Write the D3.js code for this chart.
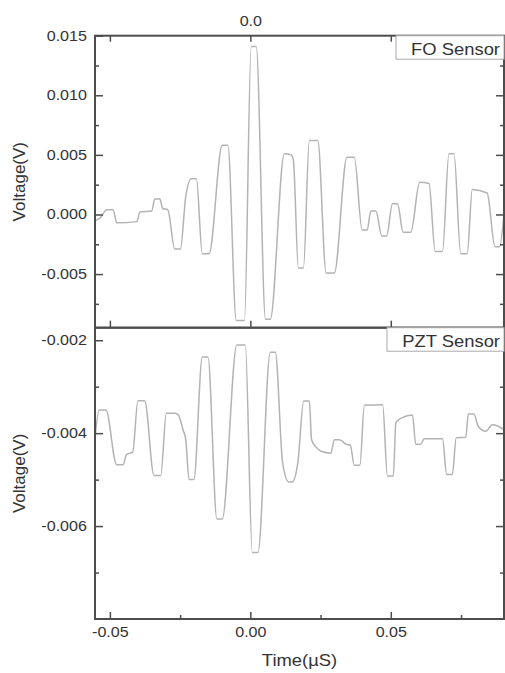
<!DOCTYPE html>
<html>
<head>
<meta charset="utf-8">
<script src="https://cdn.jsdelivr.net/npm/d3@7"></script>
<style>
  html, body { margin: 0; padding: 0; background: #fff; }
  svg { display: block; }
  text { font-family: "Liberation Sans", Arial, sans-serif; fill: #333; }
</style>
</head>
<body>
<svg id="chart"></svg>
<script>
// time axis (µS) and voltages
const foTime = [-0.0553, -0.0535, -0.0511, -0.0489, -0.0475, -0.0404, -0.0393, -0.0351, -0.0340, -0.0322,
  -0.0312, -0.0294, -0.0269, -0.0249, -0.0230, -0.0210, -0.0192, -0.0171, -0.0147, -0.0100,
  -0.0080, -0.0050, -0.0021, 0.0003, 0.0021, 0.0054, 0.0071, 0.0121, 0.0145, 0.0153,
  0.0171, 0.0189, 0.0210, 0.0240, 0.0270, 0.0299, 0.0344, 0.0370, 0.0398, 0.0416,
  0.0429, 0.0447, 0.0468, 0.0485, 0.0506, 0.0524, 0.0544, 0.0571, 0.0603, 0.0636,
  0.0658, 0.0684, 0.0707, 0.0725, 0.0749, 0.0772, 0.0790, 0.0843, 0.0871, 0.0887, 0.0903];
const foVolt = [-0.0005, -0.0003, 0.0004, 0.0004, -0.0007, -0.0006, 0.0002, 0.0003, 0.0013, 0.0013,
  0.0005, 0.0004, -0.0029, -0.0029, 0.0015, 0.0030, 0.0030, -0.0033, -0.0033, 0.0058,
  0.0058, -0.0089, -0.0089, 0.0141, 0.0141, -0.0088, -0.0088, 0.0051, 0.0050, 0.0046,
  -0.0045, -0.0045, 0.0062, 0.0062, -0.0049, -0.0049, 0.0048, 0.0048, -0.0013, -0.0013,
  0.0003, 0.0003, -0.0018, -0.0018, 0.0009, 0.0009, -0.0015, -0.0015, 0.0027, 0.0026,
  -0.0031, -0.0031, 0.0051, 0.0051, -0.0033, -0.0033, 0.0021, 0.0018, -0.0027, -0.0027, 0.0000];

const pztTime = [-0.0553, -0.0538, -0.0514, -0.0476, -0.0453, -0.0441, -0.0419, -0.0400, -0.0376, -0.0343,
  -0.0319, -0.0299, -0.0269, -0.0257, -0.0240, -0.0230, -0.0218, -0.0201, -0.0171, -0.0151,
  -0.0119, -0.0100, -0.0048, -0.0018, 0.0007, 0.0027, 0.0071, 0.0089, 0.0115, 0.0137,
  0.0149, 0.0169, 0.0190, 0.0210, 0.0218, 0.0234, 0.0252, 0.0287, 0.0299, 0.0317,
  0.0341, 0.0356, 0.0370, 0.0390, 0.0406, 0.0471, 0.0488, 0.0509, 0.0518, 0.0539,
  0.0577, 0.0589, 0.0607, 0.0619, 0.0684, 0.0699, 0.0719, 0.0733, 0.0767, 0.0776,
  0.0796, 0.0811, 0.0838, 0.0861, 0.0879, 0.0903];
const pztVolt = [-0.00410, -0.00350, -0.00350, -0.00468, -0.00468, -0.00446, -0.00441, -0.00330, -0.00330, -0.00491,
  -0.00491, -0.00357, -0.00357, -0.00360, -0.00392, -0.00414, -0.00500, -0.00500, -0.00236, -0.00236,
  -0.00585, -0.00585, -0.00210, -0.00210, -0.00657, -0.00657, -0.00226, -0.00226, -0.00464, -0.00505,
  -0.00505, -0.00464, -0.00331, -0.00331, -0.00414, -0.00430, -0.00439, -0.00443, -0.00414, -0.00414,
  -0.00424, -0.00426, -0.00469, -0.00469, -0.00340, -0.00339, -0.00492, -0.00492, -0.00378, -0.00367,
  -0.00361, -0.00424, -0.00424, -0.00412, -0.00412, -0.00489, -0.00489, -0.00410, -0.00409, -0.00359,
  -0.00359, -0.00385, -0.00396, -0.00382, -0.00384, -0.00393];

const xMajor = [-0.05, 0, 0.05];
const xMinor = [-0.025, 0.025, 0.075];
const foMajor = [0.015, 0.010, 0.005, 0.000, -0.005];
const foMinor = [0.0125, 0.0075, 0.0025, -0.0025, -0.0075];
const pztMajor = [-0.002, -0.004, -0.006];
const pztMinor = [-0.003, -0.005, -0.007];

const width = 505, height = 673;
const left = 95, right = 504;
const topY = 35.7, midY = 327.7, botY = 619;
const axisColor = '#4d4d4d';
const lineColor = '#b3b3b3';
const stretch = 'scale(1.15,1)';

// plain hyphen for negatives, like the original
const fmt = n => d => d.toFixed(n);

const svg = d3.select('#chart').attr('width', width).attr('height', height);

const x = d3.scaleLinear().domain([-0.0553, 0.0903]).range([left, right]);
const yTop = d3.scaleLinear().domain([-0.0095, 0.015]).range([midY, topY]);
const yBot = d3.scaleLinear().domain([-0.008, -0.00173]).range([botY, midY]);

function styleAxis(g) {
  g.select('.domain').remove();
  g.selectAll('line').attr('stroke', axisColor).attr('stroke-width', 1.5);
  g.selectAll('text').attr('fill', '#333').style('font-size', '14px')
    .attr('transform', stretch);
}

function panel(y, times, volts, major, minor, label, box, xTicksBottom) {
  const g = svg.append('g');

  // trace
  const line = d3.line()
    .x((d, i) => x(times[i]))
    .y(d => y(d))
    .curve(d3.curveMonotoneX);
  g.append('path')
    .datum(volts)
    .attr('d', line)
    .attr('fill', 'none')
    .attr('stroke', lineColor)
    .attr('stroke-width', 1.5);

  const [y0, y1] = y.range();

  // left axis
  g.append('g').attr('transform', `translate(${left},0)`)
    .call(d3.axisLeft(y).tickValues(major).tickFormat(fmt(3)).tickSize(-8).tickSizeOuter(0).tickPadding(7))
    .call(styleAxis);
  g.append('g').attr('transform', `translate(${left},0)`)
    .call(d3.axisLeft(y).tickValues(minor).tickFormat('').tickSize(-4).tickSizeOuter(0))
    .call(styleAxis);
  // right axis
  g.append('g').attr('transform', `translate(${right},0)`)
    .call(d3.axisRight(y).tickValues(major).tickFormat('').tickSize(-8).tickSizeOuter(0))
    .call(styleAxis);
  g.append('g').attr('transform', `translate(${right},0)`)
    .call(d3.axisRight(y).tickValues(minor).tickFormat('').tickSize(-4).tickSizeOuter(0))
    .call(styleAxis);

  // bottom ticks
  g.append('g').attr('transform', `translate(0,${y0})`)
    .call(d3.axisBottom(x).tickValues(xMajor).tickFormat(xTicksBottom ? fmt(2) : '')
      .tickSize(-7).tickSizeOuter(0).tickPadding(8))
    .call(styleAxis);
  if (xTicksBottom) {
    g.append('g').attr('transform', `translate(0,${y0})`)
      .call(d3.axisBottom(x).tickValues(xMinor).tickFormat('').tickSize(-4).tickSizeOuter(0))
      .call(styleAxis);
  }

  // frame
  g.append('rect')
    .attr('x', left).attr('y', y1)
    .attr('width', right - left).attr('height', y0 - y1)
    .attr('fill', 'none')
    .attr('stroke', axisColor)
    .attr('stroke-width', 2);

  // legend box
  g.append('rect')
    .attr('x', box).attr('y', y1)
    .attr('width', right - box).attr('height', 23.5)
    .attr('fill', '#fff')
    .attr('stroke', '#aaa')
    .attr('stroke-width', 1);
  g.append('text')
    .attr('transform', `translate(${right - 4},${y1 + 19}) ${stretch}`)
    .attr('text-anchor', 'end')
    .style('font-size', '16px')
    .text(label);

  // y title
  g.append('text')
    .attr('transform', `translate(25,${(y0 + y1) / 2}) rotate(-90)`)
    .attr('text-anchor', 'middle')
    .style('font-size', '17px')
    .text('Voltage(V)');
}

panel(yTop, foTime, foVolt, foMajor, foMinor, 'FO Sensor', 396, false);
panel(yBot, pztTime, pztVolt, pztMajor, pztMinor, 'PZT Sensor', 387, true);

// top axis of the upper panel
svg.append('g').attr('transform', `translate(0,${topY})`)
  .call(d3.axisTop(x).tickValues(xMajor).tickFormat(d => d === 0 ? '0.0' : '')
    .tickSize(-6).tickSizeOuter(0).tickPadding(10))
  .call(styleAxis);

// x title
svg.append('text')
  .attr('transform', `translate(${(left + right) / 2},666) ${stretch}`)
  .attr('text-anchor', 'middle')
  .style('font-size', '16px')
  .text('Time(µS)');
</script>
</body>
</html>
